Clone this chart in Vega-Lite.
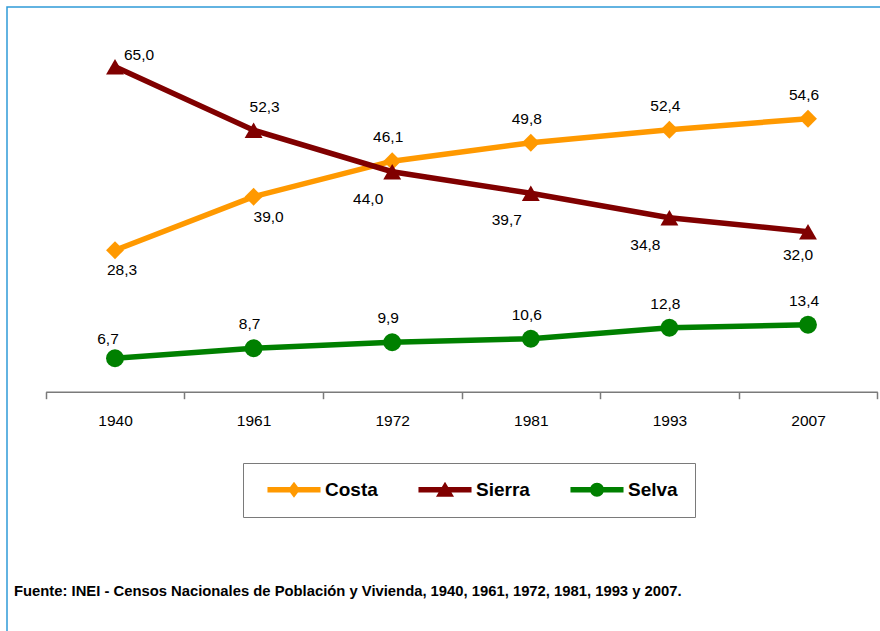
{
  "$schema": "https://vega.github.io/schema/vega-lite/v6.json",
  "width": 880,
  "height": 630,
  "padding": {"left": 7, "top": 7, "right": 0, "bottom": 0},
  "autosize": {"type": "none"},
  "background": "white",
  "config": {
    "view": {"stroke": "#2f9ad8", "strokeWidth": 1.5},
    "locale": {"number": {"decimal": ",", "thousands": ".", "grouping": [3], "currency": ["", " €"]}},
    "font": "Liberation Sans, Arial, sans-serif"
  },
  "title": {
    "text": "Fuente: INEI - Censos Nacionales de Población y Vivienda, 1940, 1961, 1972, 1981, 1993 y 2007.",
    "orient": "bottom",
    "anchor": "start",
    "frame": "group",
    "dx": 7,
    "offset": -45,
    "baseline": "middle",
    "font": "Liberation Sans, Arial, sans-serif",
    "fontSize": 14.8,
    "fontWeight": "bold",
    "color": "#000000"
  },
  "data": {
    "values": [
      {"region": "Costa", "year": "1940", "value": 28.3},
      {"region": "Costa", "year": "1961", "value": 39.0},
      {"region": "Costa", "year": "1972", "value": 46.1},
      {"region": "Costa", "year": "1981", "value": 49.8},
      {"region": "Costa", "year": "1993", "value": 52.4},
      {"region": "Costa", "year": "2007", "value": 54.6},
      {"region": "Sierra", "year": "1940", "value": 65.0},
      {"region": "Sierra", "year": "1961", "value": 52.3},
      {"region": "Sierra", "year": "1972", "value": 44.0},
      {"region": "Sierra", "year": "1981", "value": 39.7},
      {"region": "Sierra", "year": "1993", "value": 34.8},
      {"region": "Sierra", "year": "2007", "value": 32.0},
      {"region": "Selva", "year": "1940", "value": 6.7},
      {"region": "Selva", "year": "1961", "value": 8.7},
      {"region": "Selva", "year": "1972", "value": 9.9},
      {"region": "Selva", "year": "1981", "value": 10.6},
      {"region": "Selva", "year": "1993", "value": 12.8},
      {"region": "Selva", "year": "2007", "value": 13.4}
    ]
  },
  "encoding": {
    "x": {
      "field": "year",
      "type": "ordinal",
      "scale": {"type": "band", "domain": ["1940", "1961", "1972", "1981", "1993", "2007"], "range": [38.7, 870.3], "paddingInner": 0, "paddingOuter": 0},
      "axis": {
        "title": null,
        "orient": "bottom",
        "offset": -245.3,
        "tickBand": "extent",
        "labelAngle": 0,
        "grid": false,
        "domainColor": "#7a7a7a",
        "domainWidth": 1.5,
        "tickColor": "#7a7a7a",
        "tickWidth": 1.5,
        "tickSize": 7,
        "labelPadding": 22,
        "labelBaseline": "middle",
        "labelFont": "Liberation Sans, Arial, sans-serif",
        "labelFontSize": 15.5,
        "labelColor": "#000000"
      }
    },
    "y": {
      "field": "value",
      "type": "quantitative",
      "scale": {"domain": [0, 70], "range": [384.7, 34.7], "nice": false, "zero": false},
      "axis": null
    }
  },
  "layer": [
    {
      "mark": {"type": "line", "strokeWidth": 5.5},
      "encoding": {
        "color": {"field": "region", "type": "nominal", "scale": {"domain": ["Costa", "Sierra", "Selva"], "range": ["#ff9900", "#800000", "#008000"]}, "legend": null},
        "order": {"field": "year"}
      }
    },
    {
      "mark": {"type": "point", "filled": true, "opacity": 1, "size": 320},
      "encoding": {
        "color": {"field": "region", "type": "nominal", "scale": {"domain": ["Costa", "Sierra", "Selva"], "range": ["#ff9900", "#800000", "#008000"]}, "legend": null},
        "shape": {"field": "region", "type": "nominal", "scale": {"domain": ["Costa", "Sierra", "Selva"], "range": ["diamond", "triangle-up", "circle"]}, "legend": null}
      }
    },
    {
      "transform": [{"filter": "(datum.region == 'Costa' && datum.year >= '1972') || (datum.region == 'Selva' && datum.year >= '1961')"}],
      "mark": {"type": "text", "fontSize": 15.5, "color": "#000000", "align": "center", "baseline": "middle", "dx": -4, "dy": -24},
      "encoding": {"text": {"field": "value", "type": "quantitative", "format": ".1f"}}
    },
    {
      "transform": [{"filter": "datum.region == 'Sierra' && datum.year == '1961'"}],
      "mark": {"type": "text", "fontSize": 15.5, "color": "#000000", "align": "center", "baseline": "middle", "dx": 11, "dy": -23},
      "encoding": {"text": {"field": "value", "type": "quantitative", "format": ".1f"}}
    },
    {
      "transform": [{"filter": "datum.region == 'Sierra' && datum.year == '1940'"}],
      "mark": {"type": "text", "fontSize": 15.5, "color": "#000000", "align": "center", "baseline": "middle", "dx": 24, "dy": -12},
      "encoding": {"text": {"field": "value", "type": "quantitative", "format": ".1f"}}
    },
    {
      "transform": [{"filter": "datum.region == 'Selva' && datum.year == '1940'"}],
      "mark": {"type": "text", "fontSize": 15.5, "color": "#000000", "align": "center", "baseline": "middle", "dx": -7, "dy": -19},
      "encoding": {"text": {"field": "value", "type": "quantitative", "format": ".1f"}}
    },
    {
      "transform": [{"filter": "datum.region == 'Sierra' && datum.year >= '1972' && datum.year <= '1993'"}],
      "mark": {"type": "text", "fontSize": 15.5, "color": "#000000", "align": "center", "baseline": "middle", "dx": -24, "dy": 27},
      "encoding": {"text": {"field": "value", "type": "quantitative", "format": ".1f"}}
    },
    {
      "transform": [{"filter": "datum.region == 'Sierra' && datum.year == '2007'"}],
      "mark": {"type": "text", "fontSize": 15.5, "color": "#000000", "align": "center", "baseline": "middle", "dx": -10, "dy": 23},
      "encoding": {"text": {"field": "value", "type": "quantitative", "format": ".1f"}}
    },
    {
      "transform": [{"filter": "datum.region == 'Costa' && datum.year == '1940'"}],
      "mark": {"type": "text", "fontSize": 15.5, "color": "#000000", "align": "center", "baseline": "middle", "dx": 7, "dy": 20},
      "encoding": {"text": {"field": "value", "type": "quantitative", "format": ".1f"}}
    },
    {
      "transform": [{"filter": "datum.region == 'Costa' && datum.year == '1961'"}],
      "mark": {"type": "text", "fontSize": 15.5, "color": "#000000", "align": "center", "baseline": "middle", "dx": 15, "dy": 20},
      "encoding": {"text": {"field": "value", "type": "quantitative", "format": ".1f"}}
    },
    {
      "mark": {"type": "point", "filled": true, "opacity": 0, "size": 10},
      "encoding": {
        "color": {
          "field": "region",
          "type": "nominal",
          "scale": {"domain": ["Costa", "Sierra", "Selva"], "range": ["#ff9900", "#800000", "#008000"]},
          "legend": {
            "title": null,
            "orient": "none",
            "legendX": 236,
            "legendY": 456,
            "direction": "horizontal",
            "columns": 3,
            "symbolSize": 196,
            "symbolStrokeWidth": 0,
            "symbolOpacity": 1,
            "labelFont": "Liberation Sans, Arial, sans-serif",
            "labelFontSize": 19,
            "labelFontWeight": "bold",
            "labelColor": "#000000",
            "labelOffset": 46,
            "padding": 17,
            "columnPadding": 33,
            "strokeColor": "#7a7a7a",
            "fillColor": "#ffffff"
          }
        },
        "shape": {
          "field": "region",
          "type": "nominal",
          "scale": {
            "domain": ["Costa", "Sierra", "Selva"],
            "range": [
              "M-0.29,-0.39H7.29V0.39H-0.29Z M3.5,-1.14L4.36,0L3.5,1.14L2.64,0Z",
              "M-0.29,-0.39H7.29V0.39H-0.29Z M3.5,-1.14L4.79,1L2.21,1Z",
              "M-0.29,-0.39H7.29V0.39H-0.29Z M4.5,0A1,1 0 1,1 2.5,0A1,1 0 1,1 4.5,0Z"
            ]
          },
          "legend": {
            "title": null,
            "orient": "none",
            "legendX": 236,
            "legendY": 456,
            "direction": "horizontal",
            "columns": 3,
            "symbolSize": 196,
            "symbolStrokeWidth": 0,
            "symbolOpacity": 1,
            "labelFont": "Liberation Sans, Arial, sans-serif",
            "labelFontSize": 19,
            "labelFontWeight": "bold",
            "labelColor": "#000000",
            "labelOffset": 46,
            "padding": 17,
            "columnPadding": 33,
            "strokeColor": "#7a7a7a",
            "fillColor": "#ffffff"
          }
        }
      }
    }
  ],
  "resolve": {"scale": {"color": "independent", "shape": "independent"}}
}
